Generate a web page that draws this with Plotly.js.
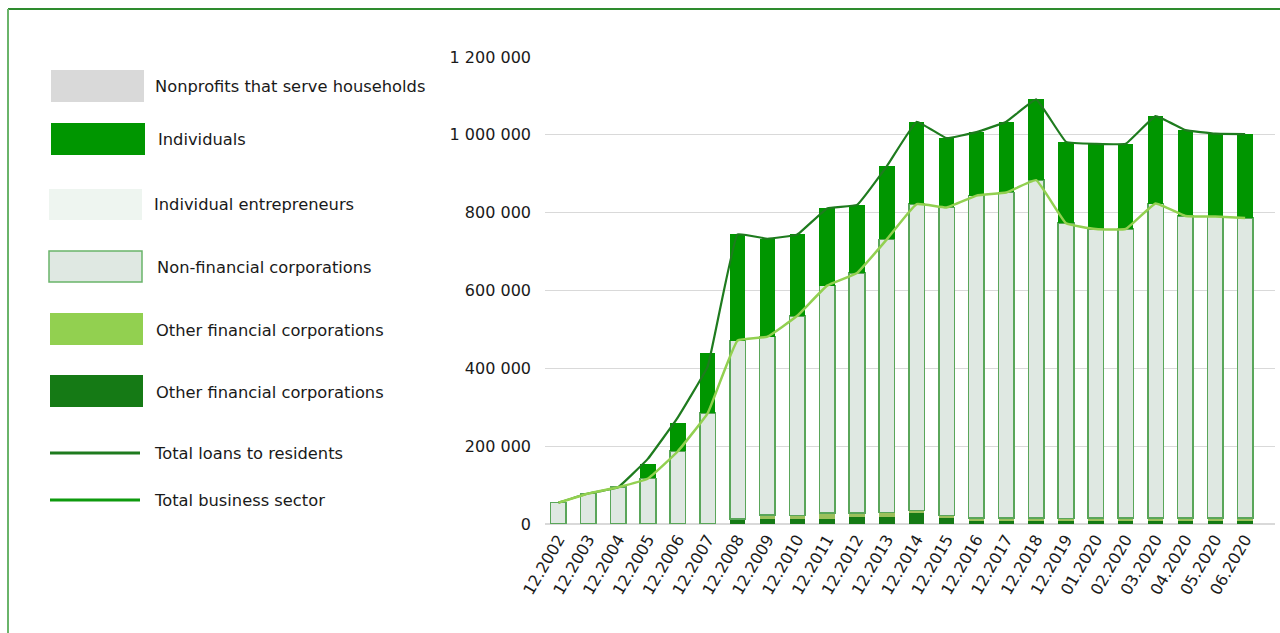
<!DOCTYPE html>
<html>
<head>
<meta charset="utf-8">
<script src="https://cdn.plot.ly/plotly-3.0.1.min.js"></script>
<style>
html,body{margin:0;padding:0;background:#fff;}
#chart{width:1280px;height:633px;}
</style>
</head>
<body>
<div id="chart"></div>
<script>
// ---- Data ----
const categories = ["12.2002","12.2003","12.2004","12.2005","12.2006","12.2007","12.2008","12.2009","12.2010","12.2011","12.2012","12.2013","12.2014","12.2015","12.2016","12.2017","12.2018","12.2019","01.2020","02.2020","03.2020","04.2020","05.2020","06.2020"];

const otherFinDark = [0,0,0,0,0,0,13500,13500,12700,12700,19000,19000,27000,14400,9000,9000,9000,9000,9000,8000,8000,8000,8000,8000];
const otherFinLight = [0,0,0,0,0,0,0,10000,9000,16000,9000,10000,8000,7200,6300,6300,6300,5500,7000,7000,7000,7000,7000,7000];
const nonFinCorp = [55000,78400,94600,117000,187000,285000,458000,458000,513300,583800,617000,702500,786800,791800,828500,836700,868200,758400,742000,743000,808500,776400,775000,771300];
const indivEntrepreneurs = [0,0,0,0,0,0,0,0,0,0,0,0,0,0,0,0,0,0,0,0,0,0,0,0];
const individuals = [0,0,0,37000,73000,154000,272500,251500,209000,198500,175000,188200,211900,178000,163200,181700,207500,209100,219000,219000,224500,220600,213000,215700];
const nonprofits = [0,0,0,0,0,0,0,0,0,0,0,0,0,0,0,0,0,0,0,0,0,0,0,0];

const totalLoans = [55000,78400,94600,168000,274000,405000,744000,733000,744000,811000,820000,919700,1033700,991400,1007000,1033700,1091000,982000,977000,977000,1048000,1012000,1003000,1002000];
const totalBusiness = [55000,78400,94600,117000,187000,285000,471500,481500,535000,612500,645000,731500,821800,813400,843800,852000,883500,772900,758000,758000,823500,791400,790000,786300];

const yTicks = [0,200000,400000,600000,800000,1000000,1200000];

const legendItems = [
  {name:"Nonprofits that serve households", kind:"box", fill:"#d9d9d9"},
  {name:"Individuals", kind:"box", fill:"#009600"},
  {name:"Individual entrepreneurs", kind:"box", fill:"#eef5f0"},
  {name:"Non-financial corporations", kind:"box", fill:"#dfe8e2", line:"#6ab46a"},
  {name:"Other financial corporations", kind:"box", fill:"#92d050"},
  {name:"Other financial corporations", kind:"box", fill:"#157a15"},
  {name:"Total loans to residents", kind:"line", color:"#1e7b1e"},
  {name:"Total business sector", kind:"line", color:"#0e9a0e"}
];

// ---- Layout geometry (pixels) ----
const W = 1280, H = 633;
const PL = 545, PR = 1275, PT = 57, PB = 524;
const px = x => (x - PL) / (PR - PL);
const py = y => (PB - y) / (PB - PT);

const legendGeo = [
  {x0:51,x1:144,y0:70,y1:102,tx:154,ty:86},
  {x0:51,x1:145,y0:123,y1:155,tx:157,ty:139},
  {x0:49,x1:142,y0:189,y1:220,tx:153,ty:205},
  {x0:49,x1:142,y0:251,y1:282,tx:156,ty:267},
  {x0:50,x1:143,y0:313,y1:345,tx:155,ty:330},
  {x0:50,x1:143,y0:375,y1:407,tx:155,ty:392},
  {x0:50,x1:140,y0:453,y1:453,tx:153,ty:453},
  {x0:50,x1:140,y0:500,y1:500,tx:153,ty:500}
];

const FONT = "DejaVu Sans, Verdana, sans-serif";

const barBase = {type:"bar", x:categories, hoverinfo:"skip", showlegend:false};
const traces = [
  Object.assign({}, barBase, {name:"Other financial corporations (2)", y:otherFinDark, marker:{color:"#157a15", line:{width:0}}}),
  Object.assign({}, barBase, {name:"Other financial corporations", y:otherFinLight, marker:{color:"#9cc05c", line:{width:0}}}),
  Object.assign({}, barBase, {name:"Non-financial corporations", y:nonFinCorp, marker:{color:"#dfe8e2", line:{color:"#5aa65a", width:1.5}}}),
  Object.assign({}, barBase, {name:"Individual entrepreneurs", y:indivEntrepreneurs, marker:{color:"#eef5f0", line:{width:0}}}),
  Object.assign({}, barBase, {name:"Individuals", y:individuals, marker:{color:"#009600", line:{width:0}}}),
  Object.assign({}, barBase, {name:"Nonprofits that serve households", y:nonprofits, marker:{color:"#d9d9d9", line:{width:0}}}),
  {type:"scatter", mode:"lines", name:"Total loans to residents", x:categories, y:totalLoans,
   line:{color:"#1e7b1e", width:2.2, shape:"spline", smoothing:0.25}, hoverinfo:"skip", showlegend:false},
  {type:"scatter", mode:"lines", name:"Total business sector", x:categories, y:totalBusiness,
   line:{color:"#92d050", width:2.5, shape:"spline", smoothing:0.3}, hoverinfo:"skip", showlegend:false}
];

const shapes = [];
const annotations = [];
legendItems.forEach((it, i) => {
  const g = legendGeo[i];
  if (it.kind === "box") {
    shapes.push({type:"rect", xref:"paper", yref:"paper", x0:px(g.x0), x1:px(g.x1), y0:py(g.y1), y1:py(g.y0),
      fillcolor:it.fill, line:{color:it.line || it.fill, width:it.line ? 1.5 : 0}});
  } else {
    shapes.push({type:"line", xref:"paper", yref:"paper", x0:px(g.x0), x1:px(g.x1), y0:py(g.y0), y1:py(g.y1),
      line:{color:it.color, width:3}});
  }
  annotations.push({xref:"paper", yref:"paper", x:px(g.tx), y:py(g.ty), xanchor:"left", yanchor:"middle",
    text:it.name, showarrow:false, font:{family:FONT, size:16.3, color:"#1a1a1a"}, borderpad:0});
});
shapes.push({type:"line", xref:"paper", yref:"paper", x0:px(8), x1:px(W), y0:py(9), y1:py(9), line:{color:"#2e8b2e", width:2}});
shapes.push({type:"line", xref:"paper", yref:"paper", x0:px(8), x1:px(8), y0:py(9), y1:py(H), line:{color:"#6ab46a", width:2}});

const layout = {
  width:W, height:H,
  margin:{l:PL, r:W-PR, t:PT, b:H-PB, pad:0},
  paper_bgcolor:"#ffffff", plot_bgcolor:"#ffffff",
  barmode:"stack", bargap:0.48,
  separators:". ",
  showlegend:false,
  font:{family:FONT, size:16, color:"#1a1a1a"},
  xaxis:{type:"category", range:[-0.45, 24.0], tickangle:-60, showgrid:false, zeroline:false,
    showline:false, ticks:"", ticklabelstandoff:2, tickfont:{family:FONT, size:16, color:"#1a1a1a"}, automargin:false},
  yaxis:{range:[0,1200000], tickvals:yTicks, tickformat:",.0f", showgrid:true, gridcolor:"#d9d9d9", gridwidth:1,
    zeroline:true, zerolinecolor:"#d9d9d9", zerolinewidth:1.5, showline:false, ticks:"", ticklabelstandoff:13,
    tickfont:{family:FONT, size:16, color:"#1a1a1a"}, automargin:false},
  shapes:shapes,
  annotations:annotations
};

Plotly.newPlot("chart", traces, layout, {staticPlot:true, displayModeBar:false});
</script>
</body>
</html>
